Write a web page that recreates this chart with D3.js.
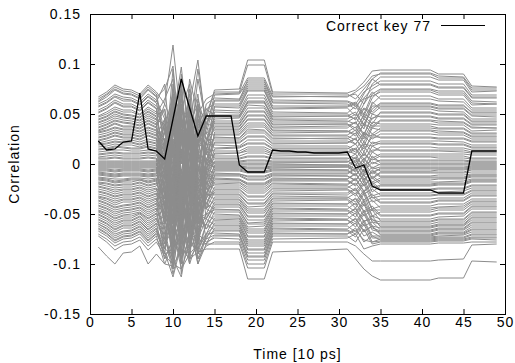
<!DOCTYPE html>
<html>
<head>
<meta charset="utf-8">
<script src="https://cdn.jsdelivr.net/npm/d3@7"></script>
<style>
  body { margin: 0; background: #fff; }
  text { font-family: "Liberation Sans", Arial, sans-serif; fill: #000; letter-spacing: 1px; }
</style>
</head>
<body>
<div id="chart"></div>
<script>
// time axis, units of 10 ps
var correctTimes = [1,2,3,4,5,6,7,8,9,10,11,12,13,14,15,16,17,18,19,20,21,22,23,24,25,
                    26,27,28,29,30,31,32,33,34,35,36,37,38,39,40,41,42,43,44,45,46,47,48,49];
var correctKey = [0.023,0.014,0.015,0.022,0.023,0.071,0.015,0.013,0.005,0.045,0.085,0.056,0.028,
                  0.048,0.048,0.048,0.048,-0.001,-0.008,-0.008,-0.008,0.014,0.013,0.013,0.012,
                  0.012,0.011,0.011,0.011,0.011,0.012,-0.004,-0.001,-0.022,-0.026,-0.026,-0.026,
                  -0.026,-0.026,-0.026,-0.026,-0.029,-0.029,-0.029,-0.029,0.013,0.013,0.013,0.013];

// sample times of the other key guesses (flat stretches carry only their end points)
var grayTimes = [1,2,3,4,5,6,7,8,9,10,11,12,13,14,15,18,19,21,22,31,32,33,34,35,41,42,45,46,49];
// correlation x 1000, one row per wrong key guess
var wrongKeys = [
  [67,72,79,75,74,70,79,72, 60,119,40,25,30,45, 74,75, 104,104, 72,71, 74,82,93,94, 94, 90,90, 78,77],
  [65,70,77,73,72,68,77,70, 30,45,97,20,-10,50, 72,72, 99,99, 70,70, 65,75,85,91, 91, 88,87, 76,76],
  [62,67,74,70,69,65,74,67, 75,98,10,60,104,35, 69,70, 82,82, 67,68, 70,60,80,87, 87, 84,84, 72,73],
  [60,64,70,67,66,62,70,64, 45,-20,55,80,15,60, 66,65, 80,80, 64,63, 60,72,78,83, 83, 80,80, 69,69],
  [57,61,67,63,63,59,67,61, 20,70,-30,40,60,30, 63,63, 78,78, 61,60, 55,70,85,79, 79, 76,76, 66,66],
  [54,58,64,60,60,56,64,58, 50,10,85,-15,40,55, 60,60, 76,76, 58,58, 62,50,70,75, 75, 73,73, 63,62],
  [51,55,61,57,57,53,61,55, -5,60,30,70,-25,20, 57,56, 73,73, 55,56, 48,65,68,72, 72, 69,69, 59,60],
  [48,52,57,54,54,50,57,52, 35,-40,65,15,85,40, 54,53, 69,69, 52,51, 58,45,60,68, 68, 65,65, 56,56],
  [47,50,55,52,52,49,55,50, 65,85,-20,50,10,-10, 52,51, 66,66, 50,50, 44,60,72,65, 65, 63,62, 54,54],
  [44,47,52,49,48,46,52,47, 10,30,75,-35,55,45, 48,48, 63,63, 47,48, 52,38,55,61, 61, 59,59, 51,51],
  [41,44,48,46,45,43,48,44, 40,-60,20,60,-45,25, 45,46, 59,58, 44,43, 40,55,50,57, 57, 55,55, 48,47],
  [39,42,46,44,43,41,46,42, -20,50,-45,30,70,0, 43,43, 56,56, 42,42, 47,35,62,55, 55, 53,52, 45,45],
  [36,39,43,41,40,38,43,39, 55,15,45,-60,20,50, 40,40, 52,52, 39,40, 33,50,45,51, 51, 49,49, 42,42],
  [33,36,40,37,37,35,40,36, 0,95,-10,45,-30,15, 37,37, 48,48, 36,36, 42,28,50,47, 47, 45,45, 39,39],
  [32,34,37,35,35,33,37,34, 25,-15,60,-5,65,35, 35,35, 45,45, 34,33, 30,45,38,44, 44, 43,42, 37,36],
  [29,31,34,32,32,30,34,31, -35,40,0,75,-15,-20, 32,32, 41,41, 31,32, 37,25,42,40, 40, 39,39, 33,34],
  [26,28,31,29,29,27,31,28, 45,-75,35,10,40,30, 29,29, 37,37, 28,28, 24,40,30,36, 36, 35,35, 30,30],
  [24,26,29,27,27,25,29,26, -10,65,-55,55,5,10, 27,26, 35,34, 26,25, 31,18,36,34, 34, 33,32, 28,28],
  [21,23,25,24,24,22,25,23, 30,-5,80,-40,50,25, 24,24, 31,31, 23,23, 20,32,25,30, 30, 29,29, 25,25],
  [19,20,22,21,21,19,22,20, -45,20,-25,35,-60,5, 21,21, 27,27, 20,21, 26,12,30,26, 26, 25,25, 22,22],
  [17,18,20,19,19,17,20,18, 15,-85,50,5,30,20, 19,18, 24,24, 18,18, 14,28,20,23, 23, 23,22, 19,19],
  [14,15,17,16,15,15,17,15, -25,55,-70,65,-5,-15, 15,16, 20,20, 15,15, 20,8,22,20, 20, 19,19, 16,16],
  [12,13,14,14,13,13,14,13, 40,-30,15,-75,45,15, 13,13, 17,17, 13,13, 10,22,12,17, 17, 16,16, 14,14],
  [9,10,11,10,10,10,11,10, -15,80,-35,20,-50,-5, 10,11, 13,13, 10,10, 15,2,18,13, 13, 13,12, 11,11],
  [7,8,9,8,8,8,9,8, 20,-50,70,-20,25,10, 8,8, 11,11, 8,9, 5,18,6,10, 10, 10,10, 9,9],
  [5,5,6,5,5,5,6,5, -30,25,-90,45,-20,0, 5,5, 7,7, 5,5, 10,-4,12,7, 7, 6,6, 5,5],
  [3,3,3,3,3,3,3,3, 5,-100,30,-55,60,-10, 3,3, 4,4, 3,3, -2,12,0,4, 4, 4,4, 3,3],
  [1,1,1,1,1,1,1,1, -55,40,-15,25,-35,5, 1,1, 1,1, 1,2, 6,-10,8,1, 1, 1,1, 1,1],
  [-2,-2,-2,-2,-2,-2,-2,-2, 10,-25,55,-85,15,-20, -2,-2, -3,-3, -2,-2, -7,5,-5,-3, -3, -3,-3, -2,-2],
  [-4,-4,-4,-4,-4,-4,-4,-4, -40,60,-60,10,-80,5, -4,-4, -5,-5, -4,-3, 2,-15,-8,-5, -5, -5,-5, -4,-4],
  [-7,-7,-8,-7,-7,-7,-8,-7, 25,-45,5,50,-10,-25, -7,-7, -9,-9, -7,-7, -12,0,-15,-9, -9, -9,-9, -8,-8],
  [-8,-9,-10,-9,-9,-9,-10,-9, -20,10,-110,-30,40,-5, -9,-10, -12,-12, -9,-9, -4,-18,-6,-12, -12, -11,-11, -10,-10],
  [-11,-12,-13,-12,-12,-12,-13,-12, 5,-70,40,15,-65,-30, -12,-12, -16,-16, -12,-12, -17,-5,-20,-16, -16, -15,-15, -13,-13],
  [-13,-14,-15,-15,-14,-14,-15,-14, -60,35,-30,-70,25,-15, -14,-15, -19,-19, -14,-15, -9,-22,-12,-18, -18, -18,-17, -15,-15],
  [-16,-17,-19,-18,-18,-16,-19,-17, 15,-95,25,40,-40,-35, -18,-18, -23,-23, -17,-17, -22,-10,-28,-22, -22, -21,-21, -18,-18],
  [-18,-19,-21,-20,-20,-18,-21,-19, -35,-10,-65,-5,-90,-10, -20,-19, -25,-25, -19,-20, -14,-27,-18,-25, -25, -24,-24, -21,-21],
  [-20,-22,-24,-23,-23,-21,-24,-22, -5,45,-40,-50,10,-40, -23,-23, -29,-29, -22,-22, -27,-15,-32,-29, -29, -28,-27, -24,-24],
  [-22,-24,-26,-25,-25,-23,-26,-24, -50,-80,10,-25,-55,-20, -25,-25, -32,-32, -24,-24, -19,-30,-25,-31, -31, -30,-30, -26,-26],
  [-25,-27,-30,-28,-28,-26,-30,-27, -15,20,-75,30,-20,-45, -28,-28, -36,-36, -27,-26, -32,-20,-38,-35, -35, -34,-34, -29,-29],
  [-27,-29,-32,-30,-30,-28,-32,-29, -70,-35,-15,-80,-5,-25, -30,-30, -39,-39, -29,-29, -24,-36,-30,-38, -38, -36,-36, -31,-31],
  [-30,-32,-35,-33,-33,-31,-35,-32, -25,-105,-50,5,-70,-50, -33,-33, -43,-42, -32,-33, -38,-26,-45,-42, -42, -40,-40, -35,-35],
  [-32,-34,-37,-35,-35,-33,-37,-34, -55,5,-95,-45,-35,-30, -35,-35, -45,-45, -34,-34, -29,-42,-36,-44, -44, -43,-42, -37,-37],
  [-34,-37,-41,-38,-38,-36,-41,-37, -10,-60,-20,-100,15,-55, -38,-38, -49,-49, -37,-36, -44,-30,-52,-48, -48, -46,-46, -40,-40],
  [-36,-39,-43,-41,-40,-38,-43,-39, -80,-25,-70,-10,-60,-35, -40,-40, -52,-52, -39,-40, -34,-47,-42,-51, -51, -49,-49, -42,-42],
  [-39,-42,-46,-44,-43,-41,-46,-42, -40,-90,-5,-55,-85,-60, -43,-43, -56,-56, -42,-42, -48,-36,-52,-55, -55, -53,-52, -45,-45],
  [-41,-44,-48,-46,-45,-43,-48,-44, -65,-45,-80,-35,-25,-40, -45,-46, -59,-58, -44,-45, -39,-52,-46,-57, -57, -55,-55, -48,-48],
  [-44,-47,-52,-49,-48,-46,-52,-47, -30,-70,-45,-65,-50,-65, -48,-48, -63,-62, -47,-47, -53,-40,-58,-60, -60, -58,-58, -51,-51],
  [-46,-49,-54,-51,-50,-48,-54,-49, -85,-10,-60,-85,-40,-45, -50,-51, -65,-65, -49,-50, -44,-57,-55,-62, -62, -60,-60, -53,-53],
  [-48,-52,-57,-54,-54,-50,-57,-52, -45,-55,-100,-20,-95,-70, -54,-54, -69,-69, -52,-52, -58,-46,-62,-64, -64, -62,-62, -56,-56],
  [-50,-54,-59,-56,-56,-52,-59,-54, -75,-100,-35,-70,-55,-50, -56,-55, -72,-72, -54,-55, -49,-62,-58,-66, -66, -64,-64, -58,-58],
  [-53,-57,-63,-59,-59,-55,-63,-57, -60,-40,-85,-90,-30,-75, -59,-59, -76,-76, -57,-56, -63,-50,-66,-68, -68, -66,-66, -61,-61],
  [-55,-59,-65,-61,-61,-57,-65,-59, -95,-75,-55,-40,-75,-55, -61,-61, -78,-78, -59,-60, -54,-67,-62,-70, -70, -68,-68, -63,-63],
  [-58,-62,-68,-64,-64,-60,-68,-62, -70,-110,-75,-60,-100,-80, -64,-64, -82,-82, -62,-62, -68,-56,-72,-72, -72, -70,-70, -66,-66],
  [-60,-64,-70,-67,-66,-62,-70,-64, -85,-50,-95,-75,-65,-60, -66,-66, -85,-85, -64,-65, -59,-72,-68,-73, -73, -72,-71, -68,-68],
  [-62,-67,-74,-70,-69,-65,-74,-67, -90,-85,-60,-80,-85,-70, -69,-70, -89,-89, -67,-67, -73,-60,-78,-75, -75, -74,-74, -71,-71],
  [-64,-69,-76,-72,-71,-67,-76,-69, -75,-95,-113,-65,-90,-75, -71,-71, -92,-92, -69,-70, -64,-78,-72,-76, -76, -75,-75, -73,-73],
  [-67,-72,-79,-75,-74,-70,-79,-72, -100,-80,-90,-85,-70,-78, -74,-75, -96,-96, -72,-72, -78,-65,-80,-78, -78, -77,-77, -75,-76],
  [-70,-75,-82,-78,-77,-73,-82,-75, -88,-113,-80,-72,-95,-82, -78,-78, -100,-100, -75,-74, -70,-85,-82,-80, -80, -79,-79, -78,-78],
  [-72,-78,-86,-81,-80,-76,-86,-78, -92,-100,-105,-90,-80,-80, -80,-80, -104,-104, -78,-78, -82,-90,-97,-97, -97, -96,-95, -81,-80],
  [-83,-92,-100,-89,-88,-82,-100,-90, -100,-102,-85,-95,-88,-85, -85,-85, -115,-115, -88,-85, -95,-105,-112,-116, -116, -114,-114, -97,-98],
  [63,69,75,71,70,66,75,68, 20,60,-15,85,50,65, 70,71, 86,86, 68,67, 72,78,88,90, 90, 86,86, 74,74],
  [58,62,68,65,64,60,68,62, 80,-10,60,35,95,40, 64,64, 84,84, 62,62, 58,66,75,80, 80, 77,77, 67,67],
  [52,56,62,58,58,54,62,56, -15,75,45,-25,30,10, 58,58, 74,74, 56,57, 60,48,66,74, 74, 71,71, 61,60],
  [45,48,53,50,49,47,53,48, 55,-30,90,25,-20,55, 49,49, 61,61, 48,48, 45,56,52,60, 60, 58,58, 52,52],
  [42,45,50,47,46,44,50,45, 15,65,-50,55,35,20, 47,47, 62,62, 45,45, 50,40,58,58, 58, 56,56, 49,49],
  [37,40,44,42,41,39,44,40, -30,-5,70,-10,50,30, 41,41, 53,53, 40,40, 36,48,40,52, 52, 50,50, 43,43],
  [34,37,41,38,38,36,41,37, 60,40,-35,20,-55,40, 38,38, 49,49, 37,38, 42,30,46,48, 48, 46,46, 40,40],
  [31,33,36,34,34,32,36,33, -5,-55,30,-65,45,25, 34,34, 44,44, 33,33, 28,40,36,43, 43, 41,41, 36,36],
  [27,29,32,30,30,28,32,29, 35,70,10,40,-25,-5, 30,30, 39,39, 29,29, 34,22,38,38, 38, 36,36, 31,31],
  [23,25,28,26,26,24,28,25, -50,15,-60,-15,20,15, 26,26, 33,33, 25,26, 20,30,28,33, 33, 31,31, 27,27],
  [20,21,23,22,22,20,23,21, 25,-40,40,55,-70,-10, 22,22, 28,28, 21,21, 25,15,27,27, 27, 26,26, 23,23],
  [15,16,18,17,16,16,18,16, -10,35,-20,-45,35,25, 16,17, 21,21, 16,16, 12,20,18,21, 21, 20,20, 17,17],
  [10,11,12,11,11,11,12,11, 45,-15,20,30,-40,-25, 11,11, 15,15, 11,12, 16,5,14,14, 14, 14,14, 12,12],
  [6,6,7,6,6,6,7,6, -40,-65,50,-30,10,20, 6,6, 8,8, 6,6, 2,10,4,8, 8, 8,8, 6,6],
  [2,2,2,2,2,2,2,2, 15,20,-45,60,-55,-15, 2,2, 3,3, 2,2, 7,-3,5,3, 3, 3,3, 2,2],
  [0,0,0,0,0,0,0,0, -20,-90,15,-20,35,10, 0,0, 0,0, 0,-1, -5,6,-4,0, 0, 0,0, 0,0],
  [-1,-1,-1,-1,-1,-1,-1,-1, 35,5,-80,40,-15,-30, -1,-1, -1,-1, -1,-1, 4,-8,2,-1, -1, -1,-1, -1,-1],
  [-3,-3,-3,-3,-3,-3,-3,-3, -65,30,25,-35,-45,0, -3,-3, -4,-4, -3,-3, -8,2,-10,-4, -4, -4,-4, -3,-3],
  [-5,-5,-6,-5,-5,-5,-6,-5, 0,-35,-20,20,55,-35, -5,-5, -7,-7, -5,-6, 0,-12,-3,-7, -7, -6,-6, -5,-5],
  [-6,-6,-7,-6,-6,-6,-7,-6, -45,50,-100,-50,-5,15, -6,-6, -8,-8, -6,-6, -11,-1,-14,-8, -8, -8,-8, -6,-6],
  [-9,-10,-11,-10,-10,-10,-11,-10, 20,-80,10,-15,-75,-20, -10,-10, -13,-13, -10,-10, -5,-16,-8,-13, -13, -13,-13, -11,-11],
  [-10,-11,-12,-11,-11,-11,-12,-11, -30,15,-55,35,30,-45, -11,-11, -15,-15, -11,-12, -16,-6,-18,-14, -14, -14,-14, -12,-12],
  [-14,-15,-17,-16,-15,-15,-17,-15, -5,-40,45,-90,-30,-10, -15,-16, -20,-20, -15,-15, -10,-22,-14,-20, -20, -19,-19, -16,-16],
  [-15,-16,-18,-17,-16,-16,-18,-16, -55,-15,-30,20,-60,-30, -16,-16, -21,-21, -16,-16, -21,-11,-24,-21, -21, -20,-20, -17,-17],
  [-19,-20,-22,-21,-21,-19,-22,-20, 10,-60,-85,-40,5,-25, -21,-21, -27,-27, -20,-21, -15,-28,-20,-26, -26, -25,-25, -22,-22],
  [-23,-25,-28,-26,-26,-24,-28,-25, -60,25,-25,-65,-35,-40, -26,-26, -33,-33, -25,-25, -30,-18,-34,-32, -32, -31,-31, -27,-27],
  [-28,-30,-33,-31,-31,-29,-33,-30, -40,-95,15,-30,-80,-30, -31,-31, -40,-40, -30,-31, -25,-38,-33,-39, -39, -37,-37, -32,-32],
  [-33,-35,-39,-36,-36,-34,-39,-35, -75,-20,-60,-95,0,-45, -36,-36, -47,-47, -35,-35, -41,-28,-46,-46, -46, -44,-44, -38,-38],
  [-37,-40,-44,-42,-41,-39,-44,-40, -20,-75,-90,-20,-50,-55, -41,-41, -53,-53, -40,-40, -35,-48,-45,-52, -52, -50,-50, -43,-43],
  [-42,-45,-50,-47,-46,-44,-50,-45, -90,-30,-40,-75,-70,-50, -46,-46, -60,-60, -45,-46, -50,-38,-56,-58, -58, -56,-56, -49,-49],
  [-47,-50,-55,-52,-52,-49,-55,-50, -55,-85,-70,-50,-90,-60, -52,-52, -67,-67, -50,-50, -45,-58,-52,-63, -63, -61,-61, -54,-54],
  [-51,-55,-61,-57,-57,-53,-61,-55, -80,-65,-105,-80,-45,-65, -57,-57, -73,-73, -55,-56, -60,-48,-64,-67, -67, -65,-65, -59,-59],
  [-56,-60,-66,-62,-62,-58,-66,-60, -65,-105,-50,-95,-80,-70, -62,-62, -80,-80, -60,-60, -55,-68,-62,-71, -71, -69,-69, -65,-65],
  [-60,-65,-72,-68,-67,-63,-72,-65, -95,-75,-95,-55,-100,-72, -67,-67, -86,-86, -65,-66, -70,-58,-74,-74, -74, -73,-73, -70,-70],
  [-65,-70,-77,-73,-72,-68,-77,-70, -85,-90,-70,-100,-75,-80, -72,-72, -93,-93, -70,-70, -66,-76,-78,-77, -77, -76,-76, -74,-74]
];

var xTicks = [0,5,10,15,20,25,30,35,40,45,50];
var yTicks = [0.15,0.1,0.05,0,-0.05,-0.1,-0.15];
var yTickLabels = ['0.15','0.1','0.05','0','-0.05','-0.1','-0.15'];
var legendLabel = 'Correct key 77';

var margin = {top: 14, right: 10, bottom: 49, left: 90};
var width = 515 - margin.left - margin.right;
var height = 363 - margin.top - margin.bottom;

var svg = d3.select('#chart').append('svg')
  .attr('width', 515)
  .attr('height', 363);

var g = svg.append('g')
  .attr('transform', 'translate(' + margin.left + ',' + margin.top + ')');

var x = d3.scaleLinear().domain([0, 50]).range([0, width]);
var y = d3.scaleLinear().domain([-0.15, 0.15]).range([height, 0]);

g.append('clipPath').attr('id', 'plotclip')
  .append('rect').attr('x', 0).attr('y', 0).attr('width', width + 1).attr('height', height + 1);

// gray lines for the wrong keys
var grayLine = d3.line()
  .defined(function(d, i) { return grayTimes[i] !== undefined; })
  .x(function(d, i) { return x(grayTimes[i]); })
  .y(function(d) { return y(d / 1000); });

g.append('g').attr('clip-path', 'url(#plotclip)')
  .selectAll('path')
  .data(wrongKeys)
  .enter().append('path')
  .attr('d', grayLine)
  .attr('fill', 'none')
  .attr('stroke', '#8c8c8c')
  .attr('stroke-width', 1);

// the correct key on top
var blackLine = d3.line()
  .x(function(d, i) { return x(correctTimes[i]); })
  .y(function(d) { return y(d); });

g.append('path')
  .datum(correctKey)
  .attr('d', blackLine)
  .attr('fill', 'none')
  .attr('stroke', '#000')
  .attr('stroke-width', 1.3);

// axes, gnuplot style: ticks inside on all four sides
var fmtY = function(d, i) { return yTickLabels[i]; };

g.append('g')
  .attr('transform', 'translate(0,' + height + ')')
  .call(d3.axisBottom(x).tickValues(xTicks).tickSize(-5).tickPadding(3).tickFormat(d3.format('d')));
g.append('g')
  .call(d3.axisTop(x).tickValues(xTicks).tickSize(-5).tickFormat(''));
g.append('g')
  .call(d3.axisLeft(y).tickValues(yTicks).tickSize(-5).tickPadding(9).tickFormat(fmtY));
g.append('g')
  .attr('transform', 'translate(' + width + ',0)')
  .call(d3.axisRight(y).tickValues(yTicks).tickSize(-5).tickFormat(''));

g.selectAll('.domain').remove();
g.selectAll('.tick line').attr('stroke', '#000');
g.selectAll('.tick text').attr('font-size', 14).attr('fill', '#000')
  .style('font-family', '"Liberation Sans", Arial, sans-serif');

g.append('rect')
  .attr('x', 0.5).attr('y', 0.5)
  .attr('width', width).attr('height', height)
  .attr('fill', 'none').attr('stroke', '#000');

// legend
g.append('text')
  .attr('x', 341).attr('y', 17)
  .attr('text-anchor', 'end')
  .attr('font-size', 14)
  .text(legendLabel);
g.append('line')
  .attr('x1', 351).attr('x2', 395)
  .attr('y1', 11.5).attr('y2', 11.5)
  .attr('stroke', '#000');

// axis titles
svg.append('text')
  .attr('x', margin.left + width / 2).attr('y', 359)
  .attr('text-anchor', 'middle')
  .attr('font-size', 14)
  .text('Time [10 ps]');
svg.append('text')
  .attr('transform', 'translate(19,' + (margin.top + height / 2) + ') rotate(-90)')
  .attr('text-anchor', 'middle')
  .attr('font-size', 14)
  .text('Correlation');
</script>
</body>
</html>
